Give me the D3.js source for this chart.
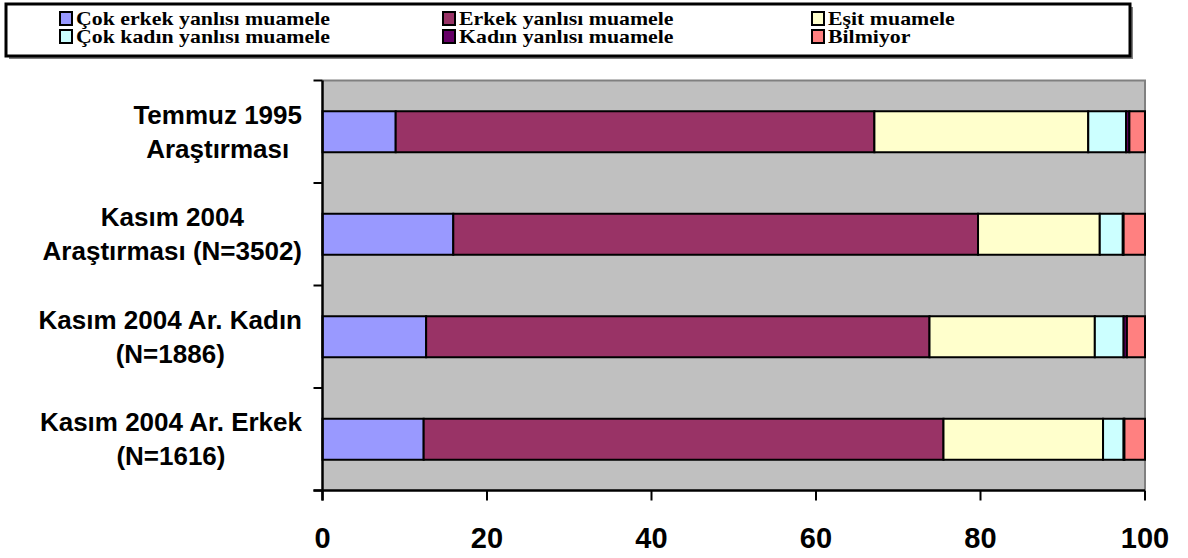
<!DOCTYPE html>
<html lang="tr">
<head>
<meta charset="UTF-8">
<title>Muamele</title>
<script src="https://d3js.org/d3.v7.min.js"></script>
<style>
  body { margin: 0; padding: 0; background: #fff; }
  .cat { font-family: Arial, "Liberation Sans", sans-serif; font-weight: bold; font-size: 26px; fill: #000; }
  .xt { font-family: Arial, "Liberation Sans", sans-serif; font-weight: bold; font-size: 29px; fill: #000; }
  .leg { font-family: "Times New Roman", "Liberation Serif", serif; font-weight: bold; font-size: 19px; fill: #000; }
</style>
</head>
<body>
<svg width="1188" height="558"></svg>
<script>
// categories (top to bottom), each label split in lines
const categories = ["Temmuz 1995 Araştırması", "Kasım 2004 Araştırması (N=3502)", "Kasım 2004 Ar. Kadın (N=1886)", "Kasım 2004 Ar. Erkek (N=1616)"];
const categoryLines = [
  ["Temmuz 1995", "Araştırması"],
  ["Kasım 2004", "Araştırması (N=3502)"],
  ["Kasım 2004 Ar. Kadın", "(N=1886)"],
  ["Kasım 2004 Ar. Erkek", "(N=1616)"]
];
const seriesNames = ["Çok erkek yanlısı muamele", "Erkek yanlısı muamele", "Eşit muamele", "Çok kadın yanlısı muamele", "Kadın yanlısı muamele", "Bilmiyor"];
const seriesColors = ["#9999FF", "#993366", "#FFFFCC", "#CCFFFF", "#660066", "#FF8080"];
// values per series, in category order
const cokErkek  = [8.9, 15.9, 12.6, 12.3];
const erkek     = [58.2, 63.8, 61.2, 63.2];
const esit      = [26.0, 14.8, 20.1, 19.4];
const cokKadin  = [4.6, 2.8, 3.5, 2.5];
const kadin     = [0.4, 0.1, 0.4, 0.1];
const bilmiyor  = [1.9, 2.6, 2.2, 2.5];
const xTicks = [0, 20, 40, 60, 80, 100];

const seriesValues = [cokErkek, erkek, esit, cokKadin, kadin, bilmiyor];
const table = categories.map((c, i) => {
  const row = { cat: c };
  seriesNames.forEach((s, j) => row[s] = seriesValues[j][i]);
  return row;
});

const svg = d3.select("svg");
const pL = 322.5, pR = 1145, pT = 80.5, pB = 490.5;

const x = d3.scaleLinear().domain([0, 100]).range([pL, pR]);
const y = d3.scaleBand().domain(categories).range([pT, pB]).paddingInner(0.6).paddingOuter(0.3);
const yOuter = d3.scaleBand().domain(categories).range([pT, pB]);

// plot background
svg.append("rect").attr("x", pL).attr("y", pT).attr("width", pR - pL).attr("height", pB - pT)
  .attr("fill", "#C0C0C0");
svg.append("path").attr("d", `M${pL},${pT}H${pR}V${pB}`)
  .attr("fill", "none").attr("stroke", "#808080").attr("stroke-width", 2);

// stacked bars
const stack = d3.stack().keys(seriesNames)(table);
svg.append("g").selectAll("g").data(stack).join("g")
  .attr("fill", (d, i) => seriesColors[i])
  .selectAll("rect").data(d => d).join("rect")
  .attr("x", d => x(d[0]))
  .attr("y", d => y(d.data.cat))
  .attr("width", d => x(d[1]) - x(d[0]))
  .attr("height", y.bandwidth())
  .attr("stroke", "#000").attr("stroke-width", 2);

// y axis
const yAxis = svg.append("g");
yAxis.append("line").attr("x1", pL).attr("x2", pL).attr("y1", pT).attr("y2", pB + 10)
  .attr("stroke", "#000").attr("stroke-width", 2.5);
const yTickPos = categories.map(c => yOuter(c)).concat([pB]);
yAxis.selectAll("line.t").data(yTickPos).join("line").attr("class", "t")
  .attr("x1", pL - 9).attr("x2", pL).attr("y1", d => d).attr("y2", d => d)
  .attr("stroke", "#000").attr("stroke-width", 2);

// x axis
const xAxis = svg.append("g");
xAxis.append("line").attr("x1", pL - 9).attr("x2", pR).attr("y1", pB).attr("y2", pB)
  .attr("stroke", "#000").attr("stroke-width", 2.5);
xAxis.selectAll("line.t").data(xTicks).join("line").attr("class", "t")
  .attr("x1", d => x(d)).attr("x2", d => x(d)).attr("y1", pB).attr("y2", pB + 10)
  .attr("stroke", "#000").attr("stroke-width", 2);
xAxis.selectAll("text").data(xTicks).join("text").attr("class", "xt")
  .attr("x", d => x(d)).attr("y", 548).attr("text-anchor", "middle").text(d => d);

// category labels, centred block whose widest line ends near the axis
categories.forEach((c, i) => {
  const cy = y(c) + y.bandwidth() / 2;
  const g = svg.append("g");
  const texts = categoryLines[i].map((t, k) => g.append("text").attr("class", "cat")
    .attr("y", cy - 8 + k * 34).text(t));
  const w = d3.max(texts, t => t.node().getComputedTextLength());
  const cx = 302 - w / 2;
  texts.forEach(t => t.attr("x", cx).attr("text-anchor", "middle"));
});

// legend
const lg = svg.append("g");
lg.append("rect").attr("x", 9).attr("y", 7).attr("width", 1124).attr("height", 52).attr("fill", "#808080");
lg.append("rect").attr("x", 6).attr("y", 4).attr("width", 1124).attr("height", 52)
  .attr("fill", "#fff").attr("stroke", "#000").attr("stroke-width", 3);
const colX = [60, 443, 812];
seriesNames.forEach((s, i) => {
  const cx = colX[i % 3], ry = i < 3 ? 12 : 30;
  lg.append("rect").attr("x", cx).attr("y", ry).attr("width", 12).attr("height", 13)
    .attr("fill", seriesColors[i]).attr("stroke", "#000").attr("stroke-width", 2);
  lg.append("text").attr("class", "leg").attr("x", 0).attr("y", 0).text(s)
    .attr("transform", `translate(${cx + 16},${ry + 13})`);
});
// fit legend text width to the first label's span
const first = lg.selectAll("text.leg").nodes()[0];
const sx = 254 / first.getComputedTextLength();
lg.selectAll("text.leg").each(function (d, i) {
  const cx = colX[i % 3], ry = i < 3 ? 12 : 30;
  d3.select(this).attr("transform", `translate(${cx + 16},${ry + 13}) scale(${sx},1)`);
});
</script>
</body>
</html>
